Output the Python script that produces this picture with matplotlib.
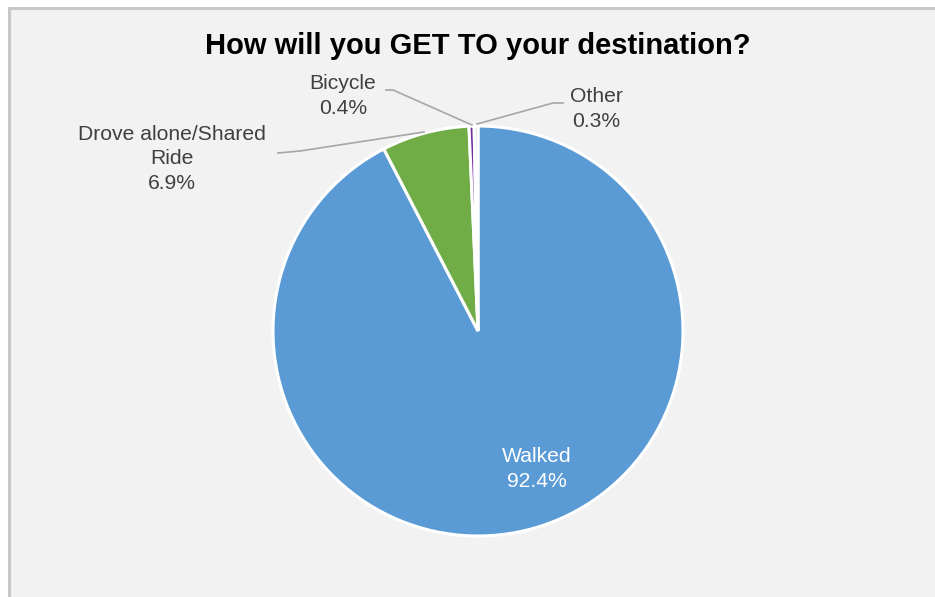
import matplotlib.pyplot as plt
from matplotlib.patches import Rectangle

modes = ["Walked", "Drove alone/Shared\nRide", "Bicycle", "Other"]
shares = [92.4, 6.9, 0.4, 0.3]
colors = ["#5B9BD5", "#70AD47", "#7030A0", "#D9D9D9"]

plt.rcParams['font.family'] = ['Liberation Sans', 'DejaVu Sans']

fig = plt.figure(figsize=(9.35, 5.97), dpi=100)
fig.patch.set_facecolor("white")
ax = fig.add_axes([0, 0, 1, 1])

# chart area with grey frame
ax.add_patch(Rectangle((9, 8), 940, 600, facecolor="#F2F2F2",
                       edgecolor="#C8C8C8", linewidth=2.2, zorder=0))

cx, cy, r = 478, 331, 205
# y axis is flipped below, so counterclock=True runs clockwise on screen
wedges, _ = ax.pie(shares, colors=colors, startangle=-90, counterclock=True,
                   center=(cx, cy), radius=r, frame=True,
                   wedgeprops=dict(edgecolor="white", linewidth=2.2))
ax.set_xlim(0, 935)
ax.set_ylim(597, 0)
ax.set_aspect("equal")
ax.axis("off")

ax.text(478, 46, "How will you GET TO your destination?", ha="center",
        va="center", fontsize=21, fontweight="bold", color="black")

lbl = dict(fontsize=15.2, color="#404040", ha="center", va="center",
           linespacing=1.38)
ax.text(537, 469, f"{modes[0]}\n{shares[0]}%", **{**lbl, "color": "white"})
ax.text(172, 159, f"{modes[1]}\n{shares[1]}%", **lbl)
ax.text(343, 96, f"{modes[2]}\n{shares[2]}%", **lbl)
ax.text(596, 109, f"{modes[3]}\n{shares[3]}%", **lbl)

lc = dict(color="#A6A6A6", linewidth=1.2)
ax.plot([278, 300, 424], [153, 151, 132], **lc)
ax.plot([386, 393, 472], [90, 90, 125], **lc)
ax.plot([563, 553, 477], [103, 103, 124], **lc)

fig.savefig("out.png", dpi=100, facecolor=fig.get_facecolor())
